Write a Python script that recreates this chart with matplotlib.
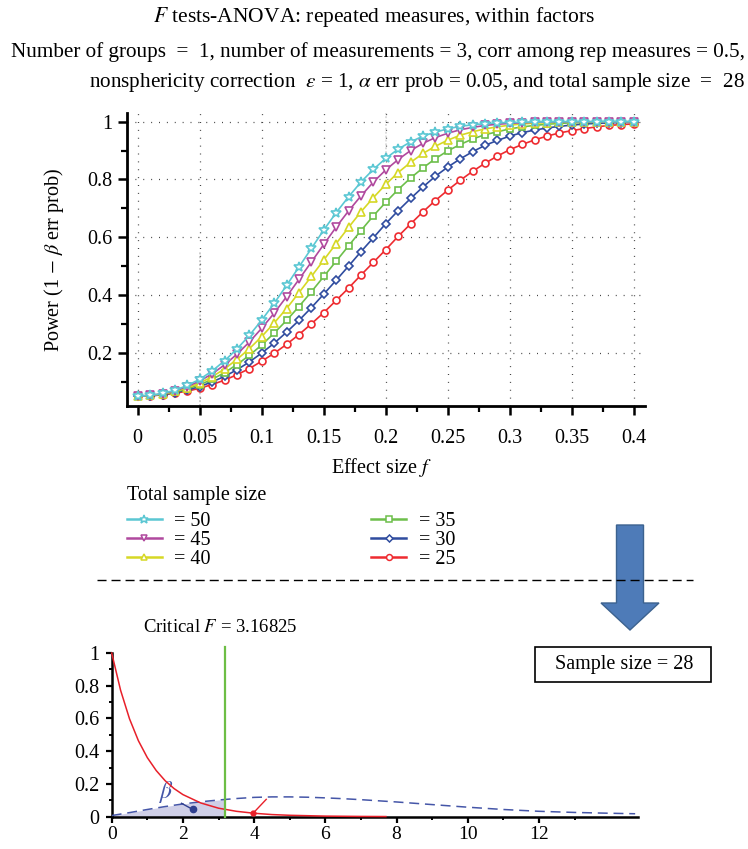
import numpy as np
import matplotlib
matplotlib.use("Agg")
import matplotlib.pyplot as plt
from matplotlib.lines import Line2D
from matplotlib.patches import Polygon, Rectangle

plt.rcParams['font.family'] = ['Liberation Serif', 'DejaVu Serif']
plt.rcParams['mathtext.fontset'] = 'stix'

# ---------------- data ----------------
effect_size = np.linspace(0, 0.4, 41)
sample_sizes = [50, 45, 40, 35, 30, 25]

power_50 = [.050, .052, .059, .070, .087, .108, .137, .172, .213, .260, .313, .371, .433, .497, .561,
            .625, .685, .740, .791, .835, .873, .905, .930, .950, .964, .975, .984, .989, .993, .996,
            .997, .998, .999, .999, 1.0, 1.0, 1.0, 1.0, 1.0, 1.0, 1.0]
power_45 = [.050, .052, .058, .068, .083, .102, .127, .158, .195, .237, .285, .337, .394, .454, .514,
            .575, .635, .691, .743, .791, .833, .869, .900, .925, .945, .960, .972, .980, .987, .991,
            .994, .996, .998, .999, .999, 1.0, 1.0, 1.0, 1.0, 1.0, 1.0]
power_40 = [.050, .052, .057, .066, .079, .095, .117, .144, .177, .214, .256, .303, .353, .408, .464,
            .521, .578, .634, .688, .737, .783, .824, .859, .890, .915, .936, .953, .965, .975, .982,
            .988, .992, .995, .996, .998, .999, .999, 1.0, 1.0, 1.0, 1.0]
power_35 = [.050, .052, .056, .064, .075, .089, .108, .131, .159, .191, .227, .268, .312, .360, .411,
            .464, .517, .570, .623, .674, .721, .765, .805, .840, .872, .899, .921, .940, .955, .965,
            .975, .982, .987, .991, .994, .996, .997, .998, .999, .999, 1.0]
power_30 = [.050, .051, .055, .062, .071, .083, .099, .118, .141, .168, .199, .233, .271, .312, .356,
            .403, .451, .500, .550, .598, .647, .692, .734, .774, .811, .843, .871, .896, .918, .935,
            .950, .962, .971, .978, .984, .988, .992, .994, .996, .997, .998]
power_25 = [.050, .051, .054, .060, .067, .077, .090, .105, .124, .145, .171, .198, .229, .263, .300,
            .339, .381, .424, .469, .513, .557, .603, .646, .688, .727, .763, .797, .828, .856, .881,
            .903, .921, .937, .950, .961, .969, .976, .982, .987, .990, .992]
power = {50: power_50, 45: power_45, 40: power_40, 35: power_35, 30: power_30, 25: power_25}

x_ticks = [0, 0.05, 0.1, 0.15, 0.2, 0.25, 0.3, 0.35, 0.4]
x_tick_labels = ['0', '0.05', '0.1', '0.15', '0.2', '0.25', '0.3', '0.35', '0.4']
y_ticks = [0.2, 0.4, 0.6, 0.8, 1.0]
y_tick_labels = ['0.2', '0.4', '0.6', '0.8', '1']

# central F density (H0) and noncentral F density (H1)
central_x = [0, 0.25, 0.5, 0.75, 1.0, 1.25, 1.5, 1.75, 2.0, 2.5, 3.0, 3.5, 4.0, 4.5, 5.0, 6.0, 7.0, 7.7]
central_y = [1.0, 0.772, 0.598, 0.464, 0.361, 0.282, 0.220, 0.172, 0.135, 0.084, 0.052, 0.033,
             0.021, 0.013, 0.0086, 0.0036, 0.0016, 0.0009]
noncentral_x = [0, 0.5, 1, 1.5, 2, 2.5, 3, 3.5, 4, 4.5, 5, 5.5, 6, 6.5, 7, 7.5, 8, 9, 10, 11, 12, 13, 14, 14.7]
noncentral_y = [0.007, 0.025, 0.044, 0.062, 0.078, 0.091, 0.102, 0.111, 0.118, 0.121, 0.121, 0.119,
                0.115, 0.110, 0.104, 0.097, 0.090, 0.074, 0.058, 0.044, 0.033, 0.026, 0.021, 0.018]
critical_F = 3.16825
total_sample_size = 28

colors = {50: '#5BC7D3', 45: '#B0499E', 40: '#D6D825', 35: '#6DBF4B', 30: '#2F4C9F', 25: '#EE2B30'}
markers = {50: '*', 45: 'v', 40: '^', 35: 's', 30: 'D', 25: 'o'}
msizes = {50: 7.5, 45: 5.5, 40: 5.5, 35: 4.5, 30: 4.2, 25: 5.0}

W, H = 748, 849
def fx(px):
    return px / W
def fy(py):
    return 1 - py / H

fig = plt.figure(figsize=(W / 100, H / 100), dpi=100)

# ---------------- top panel ----------------
ax = fig.add_axes([fx(127.3), fy(406), (645 - 127.3) / W, (406 - 113) / H])
for i, N in enumerate(reversed(sample_sizes)):
    c = colors[N]
    ax.plot(effect_size, power[N], color=c, lw=1.2, marker=markers[N], ms=msizes[N],
            mfc='white', mec=c, mew=1.2, zorder=3 + i, clip_on=False)

ax.set_xlim(-0.0084, 0.409)
ax.set_ylim(0.0156, 1.030)
ax.set_xticks(x_ticks)
ax.set_xticklabels(x_tick_labels)
ax.set_xticks([0.025, 0.075, 0.125, 0.175, 0.225, 0.275, 0.325, 0.375], minor=True)
ax.set_yticks(y_ticks)
ax.set_yticklabels(y_tick_labels)
ax.set_yticks([0.1, 0.3, 0.5, 0.7, 0.9], minor=True)
for s in ['top', 'right']:
    ax.spines[s].set_visible(False)
for s in ['left', 'bottom']:
    ax.spines[s].set_linewidth(2.0)
ax.tick_params(which='major', direction='out', length=6.5, width=1.8, labelsize=14.5, color='black')
ax.tick_params(axis='x', which='major', pad=10)
ax.tick_params(axis='y', which='major', pad=4)
ax.tick_params(which='minor', direction='out', length=4.5, width=1.6)
ax.grid(True, which='major', color='#444444', linestyle=(0, (0.8, 5.5)), lw=0.9)
ax.axvline(0.05, ymax=0.53, color='#cccccc', lw=1.4, ls=(0, (1, 1)), zorder=1)
ax.axvline(0.2, ymin=0.85, color='#dddddd', lw=1.4, ls=(0, (1, 1)), zorder=1)
ax.set_ylabel(r'Power (1 $-$ $\beta$ err prob)', fontsize=14.5)
ax.yaxis.set_label_coords(-0.118, 0.5)
ax.set_xlabel(r'Effect size $f$', fontsize=14.5)
ax.xaxis.set_label_coords(0.492, -0.172)

# legend
leg_handles = [Line2D([0], [0], color=colors[N], lw=1.8, marker=markers[N],
                      ms=msizes[N] * 0.85, mfc='white', mec=colors[N], mew=1.1) for N in sample_sizes]
leg_labels = ['= %d' % N for N in sample_sizes]
fig.legend(leg_handles, leg_labels, loc='upper left', bbox_to_anchor=(fx(126.7), fy(512)),
           ncol=2, frameon=False, fontsize=14.5, handlelength=1.75, handletextpad=0.62,
           columnspacing=7.95, labelspacing=0.0, borderaxespad=0, borderpad=0)
fig.text(fx(126.7), fy(495), 'Total sample size', ha='left', va='center', fontsize=14.5)

# ---------------- titles ----------------
fig.text(fx(374), fy(22), r'$F$ tests-ANOVA: repeated measures, within factors',
         ha='center', va='baseline', fontsize=15.5)
fig.text(fx(745), fy(57), 'Number of groups  =  1, number of measurements = 3, corr among rep measures = 0.5,',
         ha='right', va='baseline', fontsize=15.2)
fig.text(fx(745), fy(87), r'nonsphericity correction  $\epsilon$ = 1, $\alpha$ err prob = 0.05, and total sample size  =  %d' % total_sample_size,
         ha='right', va='baseline', fontsize=15.2)

# separator, arrow, box
fig.add_artist(Line2D([fx(97), fx(693)], [fy(580), fy(580)], color='black', lw=1.0,
                      dashes=(6.5, 3.6), transform=fig.transFigure))
arrow_px = [(616.5, 525), (643.5, 525), (643.5, 603), (659, 603), (630, 630), (601, 603), (616.5, 603)]
fig.add_artist(Polygon([(fx(a), fy(b)) for a, b in arrow_px], closed=True, facecolor='#4E7BB8',
                       edgecolor='#3C628F', lw=1.0, transform=fig.transFigure))
fig.add_artist(Rectangle((fx(535), fy(682)), (711 - 535) / W, (682 - 647) / H, fill=False,
                         edgecolor='black', lw=1.2, transform=fig.transFigure))
fig.text(fx(624), fy(665), 'Sample size = %d' % total_sample_size, ha='center', va='center', fontsize=14.5)

# ---------------- bottom panel ----------------
ax2 = fig.add_axes([fx(111.7), fy(816.7), (638 - 111.7) / W, (816.7 - 653) / H])
nx = np.array(noncentral_x)
ny = np.array(noncentral_y)
cx = np.array(central_x)
cy = np.array(central_y)
mask = nx < critical_F
fill_x = np.append(nx[mask], critical_F)
fill_y = np.append(ny[mask], np.interp(critical_F, nx, ny))
ax2.fill_between(fill_x, 0, fill_y, color='#CFCFE7', lw=0, zorder=1)
ax2.plot(nx, ny, color='#4556A8', lw=1.1, dashes=(6.5, 3.8), zorder=3)
ax2.plot(cx, cy, color='#E8202A', lw=1.1, zorder=4, clip_on=False)
ax2.axvline(critical_F, ymin=0, ymax=1.037, color='#6DBE45', lw=1.6, clip_on=False, zorder=5)
fig.text(fx(220), fy(627), r'Critical $F$ = %.5f' % critical_F, ha='center', va='center', fontsize=13.5)

ax2.text(1.54, 0.15, r'$\beta$', color='#4556A8', fontsize=17, ha='center', va='center')
ax2.plot([1.96, 2.27], [0.082, 0.045], color='#2F3F8F', lw=1.0, zorder=6)
ax2.plot([2.27], [0.045], 'o', color='#2F3F8F', ms=4.5, zorder=6)
ax2.plot([3.97, 4.34], [0.021, 0.106], color='#E8202A', lw=1.0, zorder=6)
ax2.plot([3.97], [0.021], 'o', color='#E8202A', ms=3.5, zorder=6)

ax2.set_xlim(0, 14.78)
ax2.set_ylim(0, 1.0)
ax2.set_xticks([0, 2, 4, 6, 8, 10, 12])
ax2.set_xticks([1, 3, 5, 7, 9, 11, 13], minor=True)
ax2.set_yticks([0, 0.2, 0.4, 0.6, 0.8, 1.0])
ax2.set_yticklabels(['0', '0.2', '0.4', '0.6', '0.8', '1'])
ax2.set_yticks([0.1, 0.3, 0.5, 0.7, 0.9], minor=True)
for s in ['top', 'right']:
    ax2.spines[s].set_visible(False)
for s in ['left', 'bottom']:
    ax2.spines[s].set_linewidth(1.8)
ax2.tick_params(which='major', direction='out', length=4, width=1.6, labelsize=14.5, pad=5)
ax2.tick_params(axis='x', which='major', labelsize=14, pad=3)
ax2.tick_params(which='minor', direction='out', length=2.5, width=1.4)

fig.savefig('out.png', dpi=100)
